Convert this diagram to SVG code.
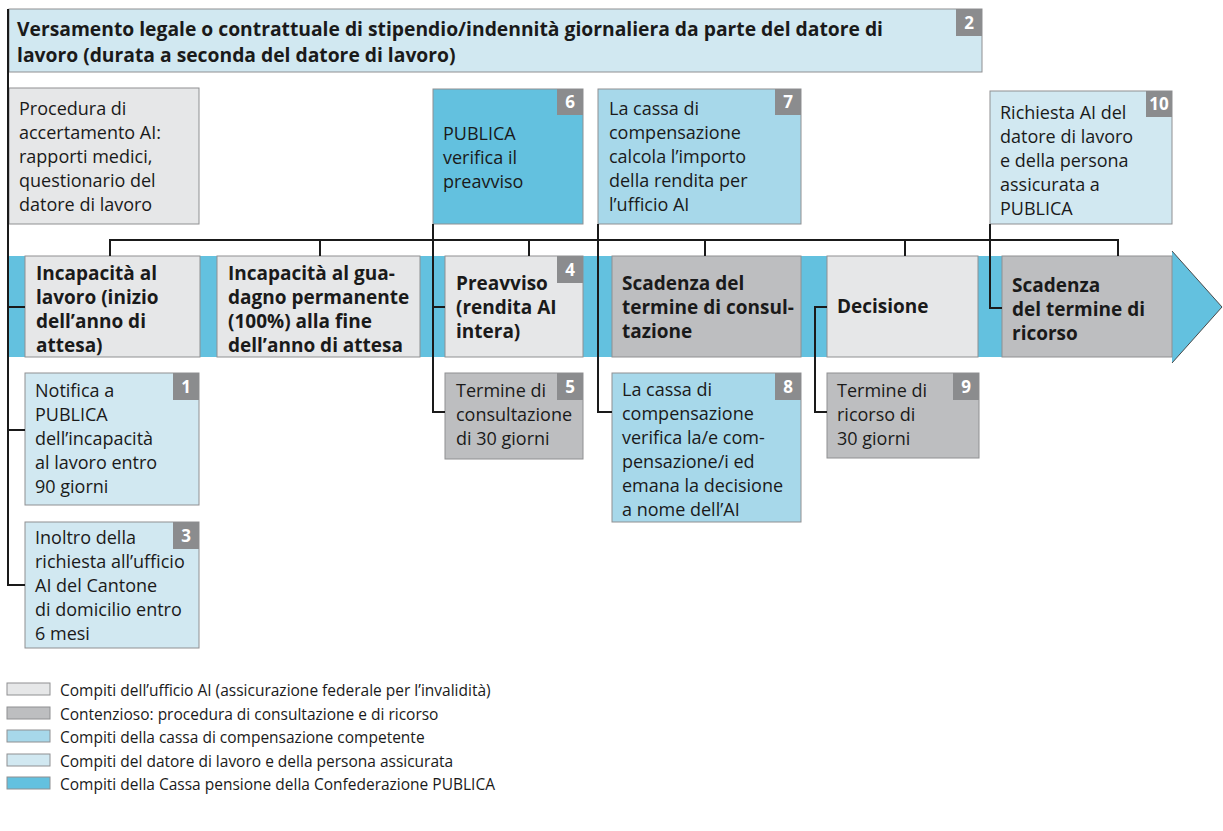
<svg xmlns="http://www.w3.org/2000/svg" width="1223" height="831" viewBox="0 0 1223 831">
<style>
text{font-family:"Open Sans","Noto Sans","Liberation Sans",sans-serif;fill:#1a1a1a}
.t{font-size:18px}
.b{font-size:19px;font-weight:700}
.bb{font-size:19.3px;font-weight:700}
.lg{font-size:15.5px}
.bd{font-size:17px;font-weight:700;fill:#fff;text-anchor:middle}
.bx{stroke:#8f9092;stroke-width:1}
.ai{fill:#e6e7e8}
.ct{fill:#bdbec0}
.cc{fill:#a7d8ea}
.em{fill:#d1e8f1}
.pu{fill:#63c1df}
.badge{fill:#8b8c8e}
.ln{fill:none;stroke:#1a1a1a;stroke-width:2}
</style>
<rect width="1223" height="831" fill="#fff"/>

<g id="band">
<rect x="8" y="256" width="1164" height="101" class="pu"/>
<polygon points="1172,251 1222,307 1172,363" class="pu"/>
<polyline points="1172,251 1222,307 1172,363" fill="none" stroke="#4a4a4a" stroke-width="1"/>
</g>

<g id="n2">
<rect x="9" y="9" width="973" height="63" class="em bx"/>
<rect x="956" y="9" width="26" height="27" class="badge"/>
<text class="bd" x="969" y="29">2</text>
<text class="bb" x="17" y="36">Versamento legale o contrattuale di stipendio/indennità giornaliera da parte del datore di</text>
<text class="bb" x="17" y="62">lavoro (durata a seconda del datore di lavoro)</text>
</g>

<g id="procedura">
<rect x="9" y="88" width="190" height="136" class="ai bx"/>
<text class="t"><tspan x="19" y="115">Procedura di</tspan><tspan x="19" y="139">accertamento AI:</tspan><tspan x="19" y="163">rapporti medici,</tspan><tspan x="19" y="187">questionario del</tspan><tspan x="19" y="211">datore di lavoro</tspan></text>
</g>

<g id="n6">
<rect x="433" y="89" width="150" height="135" class="pu bx"/>
<rect x="557" y="89" width="26" height="26" class="badge"/>
<text class="bd" x="570" y="108">6</text>
<text class="t"><tspan x="443" y="140">PUBLICA</tspan><tspan x="443" y="164">verifica il</tspan><tspan x="443" y="188">preavviso</tspan></text>
</g>

<g id="n7">
<rect x="598" y="89" width="203" height="135" class="cc bx"/>
<rect x="775" y="89" width="26" height="26" class="badge"/>
<text class="bd" x="788" y="108">7</text>
<text class="t"><tspan x="609" y="115">La cassa di</tspan><tspan x="609" y="139">compensazione</tspan><tspan x="609" y="163">calcola l’importo</tspan><tspan x="609" y="187">della rendita per</tspan><tspan x="609" y="211">l’ufficio AI</tspan></text>
</g>

<g id="n10">
<rect x="990" y="91" width="182" height="133" class="em bx"/>
<rect x="1146" y="91" width="26" height="26" class="badge"/>
<text class="bd" x="1159" y="110">10</text>
<text class="t"><tspan x="1000" y="119">Richiesta AI del</tspan><tspan x="1000" y="143">datore di lavoro</tspan><tspan x="1000" y="167">e della persona</tspan><tspan x="1000" y="191">assicurata a</tspan><tspan x="1000" y="215">PUBLICA</tspan></text>
</g>

<g id="s1">
<rect x="25" y="256" width="175" height="101" class="ai bx"/>
<text class="b"><tspan x="36" y="280">Incapacità al</tspan><tspan x="36" y="304">lavoro (inizio</tspan><tspan x="36" y="328">dell’anno di</tspan><tspan x="36" y="352">attesa)</tspan></text>
</g>

<g id="s2">
<rect x="217" y="256" width="203" height="101" class="ai bx"/>
<text class="b"><tspan x="228" y="280">Incapacità al gua-</tspan><tspan x="228" y="304">dagno permanente</tspan><tspan x="228" y="328">(100%) alla fine</tspan><tspan x="228" y="352">dell’anno di attesa</tspan></text>
</g>

<g id="s3">
<rect x="445" y="256" width="138" height="101" class="ai bx"/>
<rect x="557" y="256" width="26" height="27" class="badge"/>
<text class="bd" x="570" y="276">4</text>
<text class="b"><tspan x="456" y="290">Preavviso</tspan><tspan x="456" y="314">(rendita AI</tspan><tspan x="456" y="338">intera)</tspan></text>
</g>

<g id="s4">
<rect x="612" y="256" width="189" height="101" class="ct bx"/>
<text class="b"><tspan x="622" y="290">Scadenza del</tspan><tspan x="622" y="314">termine di consul-</tspan><tspan x="622" y="338">tazione</tspan></text>
</g>

<g id="s5">
<rect x="827" y="256" width="151" height="101" class="ai bx"/>
<text class="b"><tspan x="837" y="313">Decisione</tspan></text>
</g>

<g id="s6">
<rect x="1002" y="256" width="170" height="101" class="ct bx"/>
<text class="b"><tspan x="1012" y="292">Scadenza</tspan><tspan x="1012" y="316">del termine di</tspan><tspan x="1012" y="340">ricorso</tspan></text>
</g>

<g id="n1">
<rect x="25" y="373" width="174" height="132" class="em bx"/>
<rect x="173" y="373" width="26" height="27" class="badge"/>
<text class="bd" x="186" y="393">1</text>
<text class="t"><tspan x="35" y="397">Notifica a</tspan><tspan x="35" y="421">PUBLICA</tspan><tspan x="35" y="445">dell’incapacità</tspan><tspan x="35" y="469">al lavoro entro</tspan><tspan x="35" y="493">90 giorni</tspan></text>
</g>

<g id="n3">
<rect x="25" y="522" width="174" height="126" class="em bx"/>
<rect x="173" y="522" width="26" height="27" class="badge"/>
<text class="bd" x="186" y="542">3</text>
<text class="t"><tspan x="35" y="544">Inoltro della</tspan><tspan x="35" y="568">richiesta all’ufficio</tspan><tspan x="35" y="592">AI del Cantone</tspan><tspan x="35" y="616">di domicilio entro</tspan><tspan x="35" y="640">6 mesi</tspan></text>
</g>

<g id="n5">
<rect x="445" y="373" width="138" height="86" class="ct bx"/>
<rect x="557" y="373" width="26" height="27" class="badge"/>
<text class="bd" x="570" y="393">5</text>
<text class="t"><tspan x="456" y="397">Termine di</tspan><tspan x="456" y="421">consultazione</tspan><tspan x="456" y="445">di 30 giorni</tspan></text>
</g>

<g id="n8">
<rect x="612" y="373" width="189" height="149" class="cc bx"/>
<rect x="775" y="373" width="26" height="27" class="badge"/>
<text class="bd" x="788" y="393">8</text>
<text class="t"><tspan x="622" y="396">La cassa di</tspan><tspan x="622" y="420">compensazione</tspan><tspan x="622" y="444">verifica la/e com-</tspan><tspan x="622" y="468">pensazione/i ed</tspan><tspan x="622" y="492">emana la decisione</tspan><tspan x="622" y="516">a nome dell’AI</tspan></text>
</g>

<g id="n9">
<rect x="827" y="373" width="152" height="85" class="ct bx"/>
<rect x="953" y="373" width="26" height="27" class="badge"/>
<text class="bd" x="966" y="393">9</text>
<text class="t"><tspan x="837" y="397">Termine di</tspan><tspan x="837" y="421">ricorso di</tspan><tspan x="837" y="445">30 giorni</tspan></text>
</g>

<g id="connectors">
<polyline class="ln" points="8,9 8,585 25,585"/>
<line class="ln" x1="8" y1="307" x2="25" y2="307"/>
<line class="ln" x1="8" y1="430" x2="25" y2="430"/>
<line class="ln" x1="110" y1="240" x2="1118" y2="240"/>
<line class="ln" x1="110" y1="239" x2="110" y2="256"/>
<line class="ln" x1="320" y1="240" x2="320" y2="256"/>
<line class="ln" x1="529" y1="240" x2="529" y2="256"/>
<line class="ln" x1="705" y1="240" x2="705" y2="256"/>
<line class="ln" x1="905" y1="240" x2="905" y2="256"/>
<line class="ln" x1="1118" y1="239" x2="1118" y2="256"/>
<polyline class="ln" points="433,224 433,412 445,412"/>
<line class="ln" x1="433" y1="307" x2="445" y2="307"/>
<polyline class="ln" points="598,224 598,412 612,412"/>
<polyline class="ln" points="827,307 815,307 815,412 827,412"/>
<polyline class="ln" points="990,224 990,308 1002,308"/>
</g>

<g id="legend">
<rect x="7" y="683" width="43" height="12" class="ai bx"/>
<text class="lg" x="60" y="696">Compiti dell’ufficio AI (assicurazione federale per l’invalidità)</text>
<rect x="7" y="707" width="43" height="12" class="ct bx"/>
<text class="lg" x="60" y="720">Contenzioso: procedura di consultazione e di ricorso</text>
<rect x="7" y="730" width="43" height="12" class="cc bx"/>
<text class="lg" x="60" y="743">Compiti della cassa di compensazione competente</text>
<rect x="7" y="754" width="43" height="12" class="em bx"/>
<text class="lg" x="60" y="767">Compiti del datore di lavoro e della persona assicurata</text>
<rect x="7" y="777" width="43" height="12" class="pu bx"/>
<text class="lg" x="60" y="790">Compiti della Cassa pensione della Confederazione PUBLICA</text>
</g>
</svg>
